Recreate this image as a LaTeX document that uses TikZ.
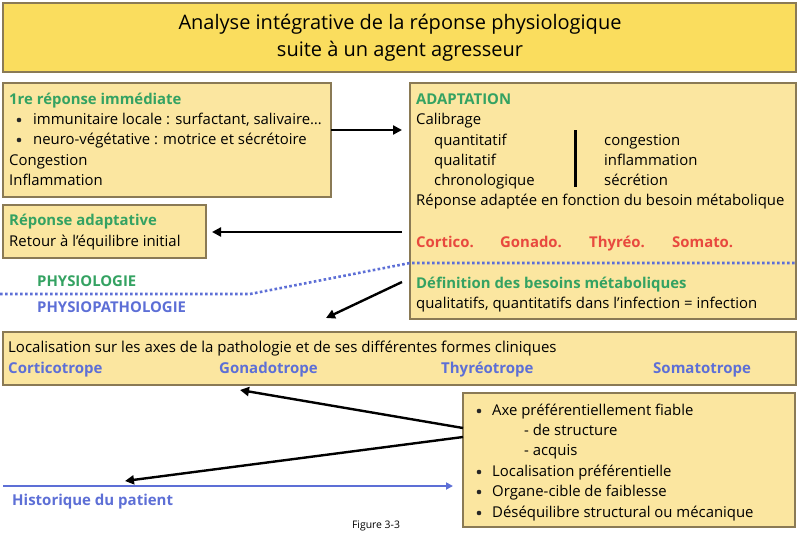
\documentclass[tikz,border=0pt]{standalone}
\usepackage{fontspec}
\setmainfont{Open Sans}
\usetikzlibrary{arrows.meta}
\definecolor{boxfill}{HTML}{FBE6A0}
\definecolor{titlefill}{HTML}{FADD5E}
\definecolor{boxline}{HTML}{8A7A55}
\definecolor{headgreen}{HTML}{34A262}
\definecolor{axisred}{HTML}{E8493E}
\definecolor{axisblue}{HTML}{5D6FD6}
\tikzset{
  panel/.style={draw=boxline, line width=1.2pt, fill=boxfill},
  txt/.style={anchor=west, inner sep=0pt, text height=14pt, text depth=3pt, font=\fontsize{14.9}{18}\selectfont},
  loctxt/.style={txt, font=\fontsize{15}{18}\selectfont},
  head/.style={txt, font=\fontsize{14.9}{18}\selectfont\bfseries, text=headgreen},
  redlabel/.style={txt, font=\fontsize{14.9}{18}\selectfont\bfseries, text=axisred},
  bluelabel/.style={txt, font=\fontsize{15}{18}\selectfont\bfseries, text=axisblue},
  dot/.style={circle, fill=black!85, inner sep=0pt, minimum size=4.6pt},
  arr/.style={line width=2.4pt, -{Triangle[length=9pt,width=9pt]}}
}
\begin{document}
\begin{tikzpicture}[x=1pt, y=-1pt]
            \useasboundingbox (0,0) rectangle (800,538);
            % title
            \draw[panel, fill=titlefill] (3,3) rectangle (796,72);
            \node[font=\fontsize{20}{27}\selectfont, align=center] (title) at (400,38)
              {Analyse intégrative de la réponse physiologique\\suite à un agent agresseur};
            % boxes
            \draw[panel] (3,83) rectangle (331,197);
            \draw[panel] (410,83) rectangle (796,319);
            \draw[panel] (3,205) rectangle (206,258);
            \draw[panel] (3,332) rectangle (796,385);
            \draw[panel] (463,393) rectangle (795,527);
            % coordinates
            \coordinate (immed) at (331,130);
            \coordinate (adaptin) at (402,130);
            \coordinate (adaptout) at (402,232);
            \coordinate (retour) at (212,232);
            \coordinate (besoin) at (402,282);
            \coordinate (patho) at (326,318);
            \coordinate (fiableA) at (463,428);
            \coordinate (fiableB) at (463,437);
            \coordinate (gonado) at (240,390);
            \coordinate (histo) at (125,481);
            \coordinate (histostart) at (3,486);
            \coordinate (histoend) at (453,486);
            % first response
            \node[head] (immtitle) at (9,99) {1re réponse immédiate};
            \node[dot] at (19,120) {};
            \node[txt] (immloc) at (33,119) {immunitaire locale : surfactant, salivaire\dots};
            \node[dot] at (19,140) {};
            \node[txt] (neuro) at (33,139) {neuro-végétative : motrice et sécrétoire};
            \node[txt] (cong) at (9,160) {Congestion};
            \node[txt] (infl) at (9,180) {Inflammation};
            % adaptive response
            \node[head] (adtitle) at (9,220) {Réponse adaptative};
            \node[txt] (eq) at (9,241) {Retour à l’équilibre initial};
            % adaptation
            \node[head] (adapt) at (416,99) {ADAPTATION};
            \node[txt] (calib) at (416,119) {Calibrage};
            \node[txt] (quant) at (434,140) {quantitatif};
            \node[txt] (qual) at (434,160) {qualitatif};
            \node[txt] (chrono) at (434,180) {chronologique};
            \node[txt] (congb) at (604,140) {congestion};
            \node[txt] (inflb) at (604,160) {inflammation};
            \node[txt] (secr) at (604,180) {sécrétion};
            \draw[line width=3pt] (575,130) -- (575,187);
            \node[txt] (repad) at (416,200) {Réponse adaptée en fonction du besoin métabolique};
            \node[redlabel] (cortico) at (416,242) {Cortico.};
            \node[redlabel] (gonad) at (500,242) {Gonado.};
            \node[redlabel] (thyreo) at (589,242) {Thyréo.};
            \node[redlabel] (somato) at (672,242) {Somato.};
            \node[head] (deftitle) at (416,283) {Définition des besoins métaboliques};
            \node[txt] (qualq) at (416,303) {qualitatifs, quantitatifs dans l’infection = infection};
            % physiology limit
            \draw[draw=axisblue, line width=2.6pt, dash pattern=on 2.6pt off 2.4pt]
              (0,294) -- (250,294) -- (410,263) -- (796,263);
            \node[head] (physio) at (37,281) {PHYSIOLOGIE};
            \node[head, text=axisblue] (physiopath) at (37,307) {PHYSIOPATHOLOGIE};
            % localisation
            \node[loctxt] (loc) at (8,347) {Localisation sur les axes de la pathologie et de ses différentes formes cliniques};
            \node[bluelabel] (corticotr) at (8,368) {Corticotrope};
            \node[bluelabel] (gonadotr) at (219,368) {Gonadotrope};
            \node[bluelabel] (thyreotr) at (441,368) {Thyréotrope};
            \node[bluelabel] (somatotr) at (653,368) {Somatotrope};
            % terrain
            \node[dot] at (479,411) {};
            \node[txt] (axe) at (492,410) {Axe préférentiellement fiable};
            \node[txt] (struct) at (524,430) {- de structure};
            \node[txt] (acq) at (524,450) {- acquis};
            \node[dot] at (479,472) {};
            \node[txt] (locpref) at (492,471) {Localisation préférentielle};
            \node[dot] at (479,492) {};
            \node[txt] (organe) at (492,491) {Organe-cible de faiblesse};
            \node[dot] at (479,513) {};
            \node[txt] (deseq) at (492,512) {Déséquilibre structural ou mécanique};
            % patient history
            \draw[draw=axisblue, line width=2.6pt, -{Triangle[length=7pt,width=7pt]}] (histostart) -- (histoend);
            \node[bluelabel] (histlabel) at (12,500) {Historique du patient};
            % arrows
            \draw[arr] (immed) -- (adaptin);
            \draw[arr] (adaptout) -- (retour);
            \draw[arr] (besoin) -- (patho);
            \draw[arr] (fiableA) -- (gonado);
            \draw[arr] (fiableB) -- (histo);
            % caption
            \node[font=\fontsize{10.4}{12}\selectfont, inner sep=0pt] (fig) at (376,526) {Figure 3-3};
        \end{tikzpicture}
\end{document}
